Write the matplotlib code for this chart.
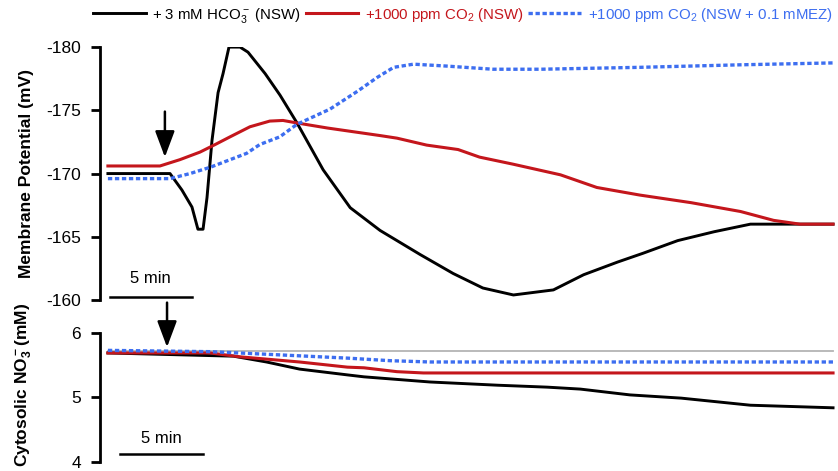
import matplotlib
matplotlib.use('Agg')
import matplotlib.pyplot as plt

plt.rcParams['font.family'] = ['Liberation Sans', 'DejaVu Sans']
plt.rcParams['mathtext.default'] = 'regular'
plt.rcParams['axes.unicode_minus'] = False

# time in minutes
# membrane potential (mV)
t_hco3 = [0, 3.76, 4.48, 5.09, 5.45, 5.76, 6.0, 6.3, 6.67, 6.97, 7.33, 8.0, 8.48,
          9.52, 10.42, 11.45, 13.03, 14.67, 16.48, 18.9, 20.9, 22.7, 24.55, 26.97,
          28.8, 30.85, 32.4, 34.5, 36.7, 38.9, 43.9]
mv_hco3 = [-170.0, -170.0, -168.7, -167.35, -165.6, -165.6, -168.1, -172.6, -176.4,
           -177.9, -180.0, -180.0, -179.6, -177.9, -176.2, -174.0, -170.3, -167.3,
           -165.5, -163.6, -162.1, -160.95, -160.4, -160.8, -162.0, -163.0, -163.7,
           -164.7, -165.4, -166.0, -166.0]

t_co2 = [0, 3.15, 4.36, 5.58, 6.5, 7.39, 8.6, 9.8, 10.6, 11.45, 13.3, 16.5, 17.5,
         19.3, 21.2, 22.5, 24.5, 27.4, 29.6, 32.2, 35.3, 38.3, 40.3, 41.9, 43.9]
mv_co2 = [-170.6, -170.6, -171.1, -171.7, -172.3, -172.9, -173.7, -174.15, -174.2,
          -174.0, -173.6, -173.0, -172.8, -172.25, -171.9, -171.3, -170.75, -169.9,
          -168.9, -168.3, -167.7, -167.0, -166.3, -166.0, -166.0]

t_mez = [0, 3.76, 4.97, 6.2, 7.6, 8.4, 9.2, 10.4, 11.45, 13.45, 15.1, 16.3, 17.3,
         18.5, 20.5, 23.3, 26.2, 32.2, 38.3, 43.9]
mv_mez = [-169.6, -169.6, -170.0, -170.5, -171.2, -171.6, -172.3, -172.9, -173.9,
          -175.1, -176.5, -177.6, -178.4, -178.65, -178.5, -178.25, -178.25, -178.4,
          -178.6, -178.75]

# cytosolic nitrate (mM)
tn_hco3 = [0, 7.6, 9.6, 11.6, 14.5, 15.5, 19.5, 23.6, 26.6, 28.6, 31.6, 34.7, 38.9, 43.9]
no3_hco3 = [5.69, 5.64, 5.55, 5.44, 5.35, 5.32, 5.24, 5.19, 5.16, 5.13, 5.04, 4.99, 4.88, 4.84]
tn_co2 = [0, 6.2, 8.0, 11.6, 14.5, 15.5, 17.5, 19.1, 43.9]
no3_co2 = [5.69, 5.69, 5.63, 5.55, 5.47, 5.46, 5.40, 5.38, 5.38]
tn_mez = [0, 6.2, 9.6, 14.5, 17.1, 19.5, 43.9]
no3_mez = [5.73, 5.71, 5.67, 5.61, 5.57, 5.55, 5.55]
tn_ctrl = [0, 43.9]
no3_ctrl = [5.725, 5.725]

labels = ['+ 3 mM HCO$_3^-$ (NSW)', '+1000 ppm CO$_2$ (NSW)',
          '+1000 ppm CO$_2$ (NSW + 0.1 mMEZ)']

black = '#000000'
red = '#c4161c'
blue = '#3d6ef0'
dots = (0, (1.3, 0.8))

fig = plt.figure(figsize=(8.38, 4.71), dpi=100)
ax1 = fig.add_axes([0.1193, 0.363, 0.8807, 0.537])
ax2 = fig.add_axes([0.1193, 0.0191, 0.8807, 0.274])

l1, = ax1.plot(t_hco3, mv_hco3, color=black, lw=2.1)
l2, = ax1.plot(t_co2, mv_co2, color=red, lw=2.2)
l3, = ax1.plot(t_mez, mv_mez, color=blue, lw=2.4, ls=dots)

ax2.plot(tn_ctrl, no3_ctrl, color='#b4b4b4', lw=1.3)
ax2.plot(tn_hco3, no3_hco3, color=black, lw=2.1)
ax2.plot(tn_co2, no3_co2, color=red, lw=2.2)
ax2.plot(tn_mez, no3_mez, color=blue, lw=2.4, ls=dots)

ax1.set_ylim(-160, -180)
ax1.set_yticks([-180, -175, -170, -165, -160])
ax2.set_ylim(4, 6)
ax2.set_yticks([4, 5, 6])

for ax in (ax1, ax2):
    ax.set_xlim(-0.48, 44.2)
    ax.set_xticks([])
    for s in ['top', 'right', 'bottom']:
        ax.spines[s].set_visible(False)
    ax.spines['left'].set_linewidth(2.0)
    ax.tick_params(axis='y', length=6.5, width=2.0, pad=7, labelsize=12.5)
    ax.patch.set_alpha(0)

ax1.set_ylabel('Membrane Potential (mV)', fontsize=12.5, fontweight='bold')
ax2.set_ylabel('Cytosolic NO$_3^-$(mM)', fontsize=12.5, fontweight='bold')
ax1.yaxis.set_label_coords(-0.09, 0.5)
ax2.yaxis.set_label_coords(-0.09, 0.6)

# scale bars
ax1.plot([0.12, 5.1], [-160.25, -160.25], color='black', lw=1.8, clip_on=False)
ax1.text(2.6, -161.7, '5 min', ha='center', va='center', fontsize=12)
ax2.plot([0.73, 5.76], [4.12, 4.12], color='black', lw=1.8, clip_on=False)
ax2.text(3.25, 4.37, '5 min', ha='center', va='center', fontsize=12)

# treatment arrows
arr = dict(arrowstyle='-|>,head_length=1.6,head_width=0.6', color='black', lw=1.8,
           shrinkA=0, shrinkB=0)
ax1.annotate('', xy=(3.45, -171.3), xytext=(3.45, -174.9), arrowprops=arr,
             annotation_clip=False)
ax2.annotate('', xy=(3.58, 5.78), xytext=(3.58, 6.47), arrowprops=arr,
             annotation_clip=False)

leg = fig.legend(handles=[l1, l2, l3], labels=labels, loc='center left',
                 bbox_to_anchor=(0.111, 0.968), ncol=3, frameon=False,
                 fontsize=10.8, handlelength=3.5, handletextpad=0.45,
                 columnspacing=0.3, borderpad=0, borderaxespad=0,
                 labelcolor='linecolor')

plt.savefig('out.png', dpi=100)
